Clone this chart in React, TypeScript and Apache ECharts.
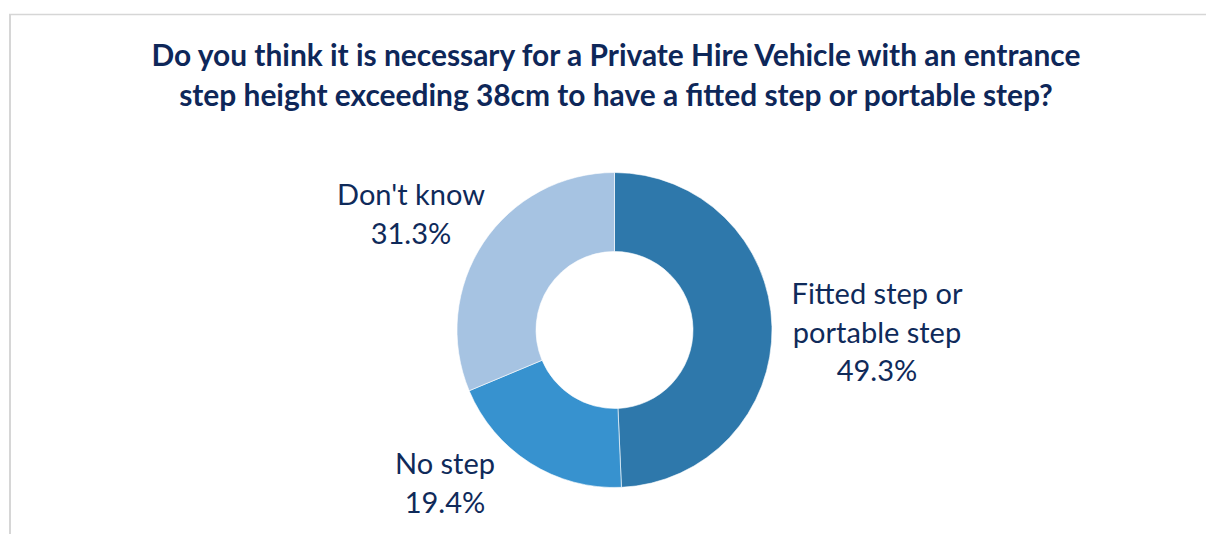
import React, { useEffect, useRef } from "react";
import * as echarts from "echarts";

const titleLines = [
  "Do you think it is necessary for a Private Hire Vehicle with an entrance",
  "step height exceeding 38cm to have a fitted step or portable step?",
];
const categories = ["Fitted step or\nportable step", "No step", "Don't know"];
const values = [49.3, 19.4, 31.3];
const colors = ["#2E78AB", "#3792CF", "#A6C3E2"];
const labelCenters = [
  [877, 331],
  [445, 482],
  [411, 213],
];

export default function App() {
  const ref = useRef<HTMLDivElement>(null);
  useEffect(() => {
    document.body.style.margin = "0";
    const chart = echarts.init(ref.current!, null, { renderer: "svg" });
    chart.setOption({
      animation: false,
      backgroundColor: "#ffffff",
      title: {
        text: titleLines.join("\n"),
        left: 616,
        top: 34,
        padding: 0,
        textAlign: "center",
        textStyle: {
          fontFamily: "Lato",
          fontWeight: "bold",
          fontSize: 29.9,
          lineHeight: 40,
          color: "#0E2759",
        },
      },
      graphic: [
        {
          type: "line",
          shape: { x1: 9, y1: 14.5, x2: 1206, y2: 14.5 },
          style: { stroke: "#d6d6d6", lineWidth: 1.5 },
        },
        {
          type: "line",
          shape: { x1: 10, y1: 14, x2: 10, y2: 534 },
          style: { stroke: "#d6d6d6", lineWidth: 2 },
        },
      ],
      series: [
        {
          type: "pie",
          center: [614.5, 330],
          radius: [78.5, 157.5],
          startAngle: 90,
          clockwise: true,
          itemStyle: { borderColor: "#ffffff", borderWidth: 0.6 },
          label: {
            show: true,
            position: "outside",
            formatter: (p: any) => `${p.name}\n${p.value.toFixed(1)}%`,
            fontFamily: "Lato",
            fontSize: 29,
            lineHeight: 38.5,
            color: "#0F2A5A",
            align: "center",
          },
          labelLine: { show: false },
          labelLayout: (params: any) => {
            const c = labelCenters[params.dataIndex];
            return {
              x: c[0],
              y: c[1],
              align: "center",
              verticalAlign: "middle",
            };
          },
          emphasis: { disabled: true },
          data: categories.map((name, i) => ({
            name,
            value: values[i],
            itemStyle: { color: colors[i] },
          })),
        },
      ],
    });
    return () => chart.dispose();
  }, []);
  return <div ref={ref} style={{ width: 1206, height: 534 }} />;
}
